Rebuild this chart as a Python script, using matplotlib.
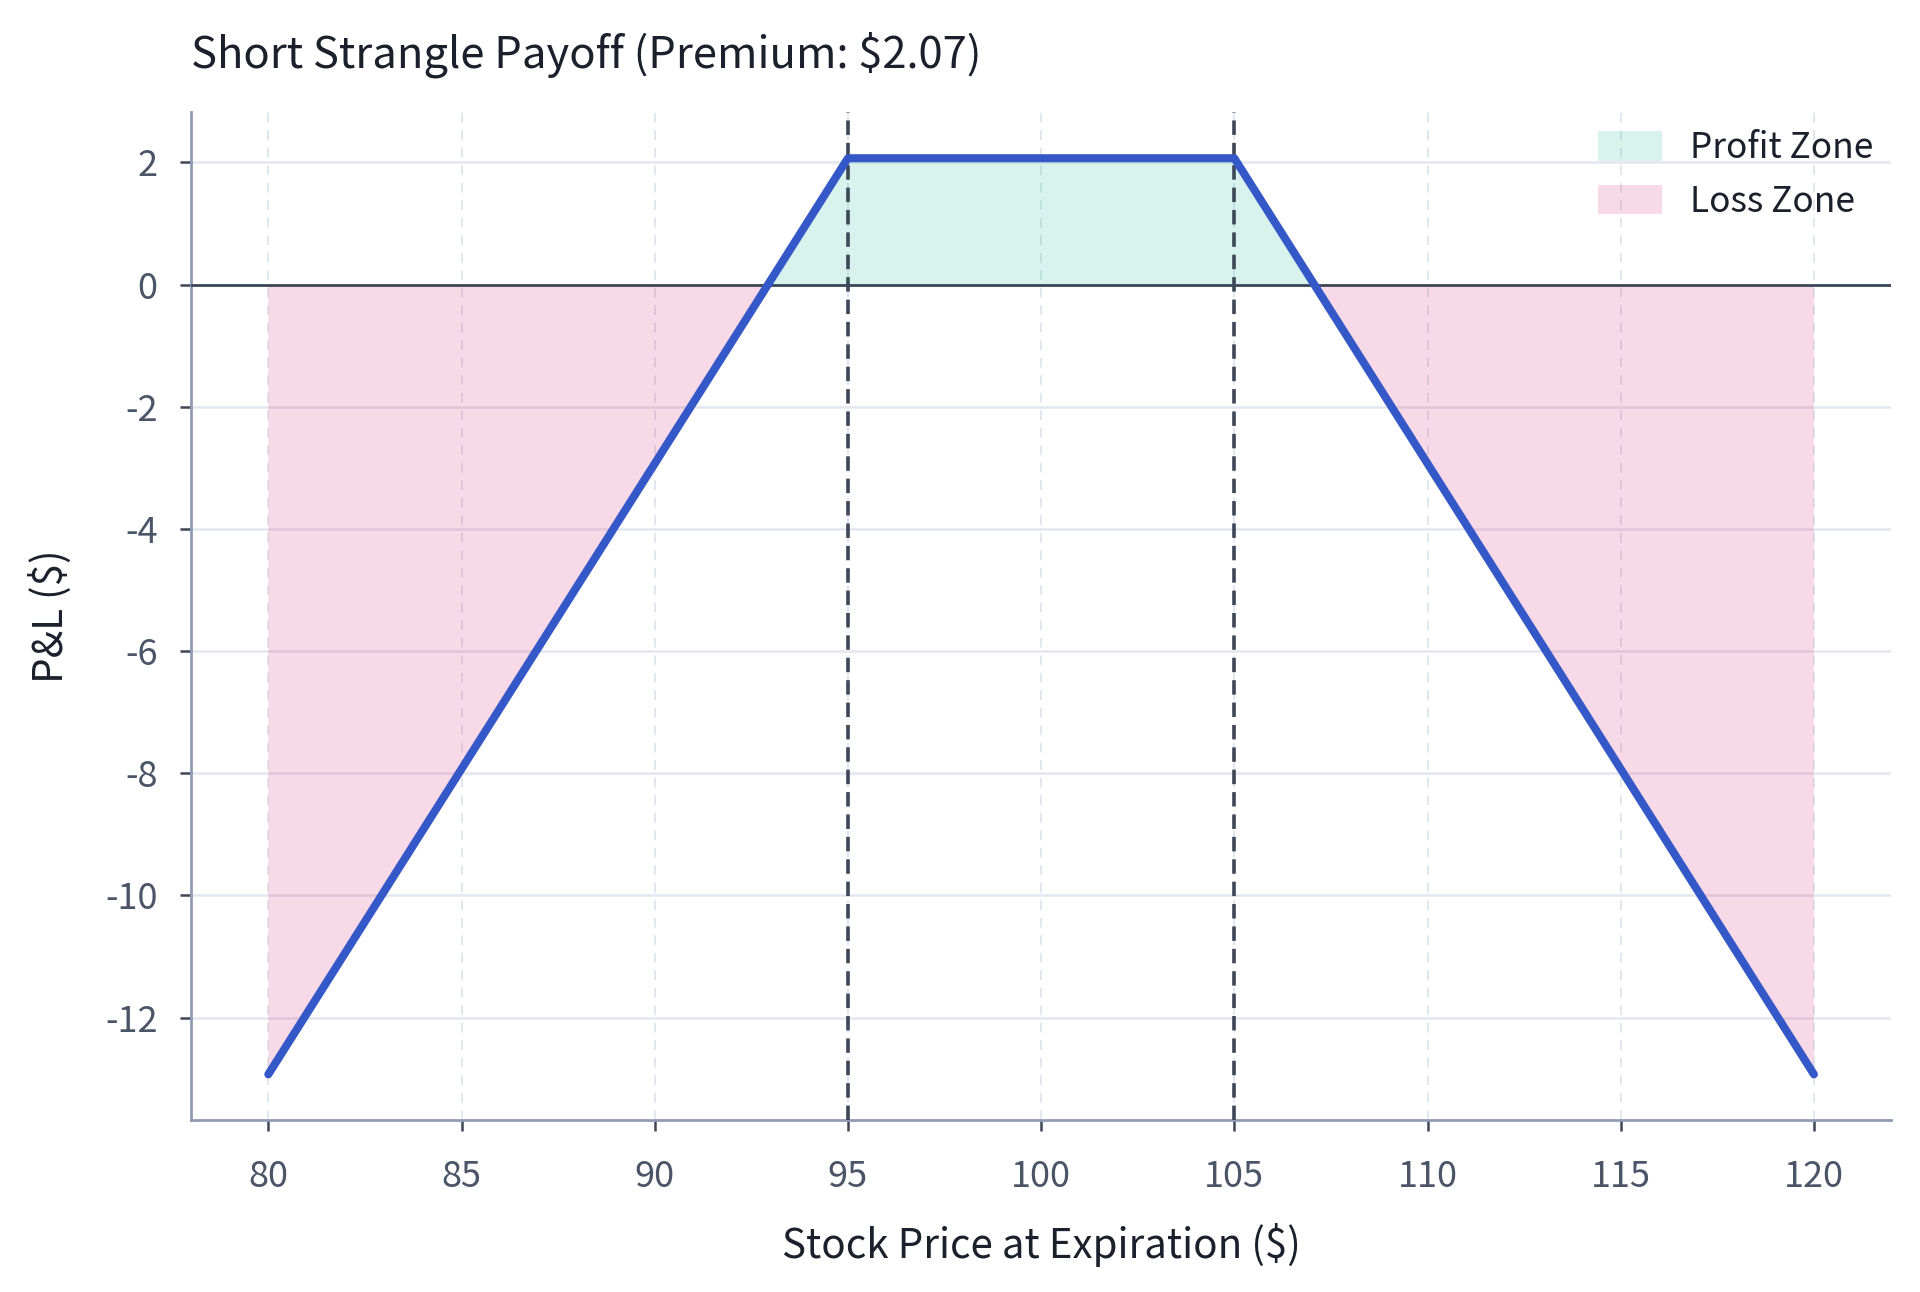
import matplotlib
matplotlib.use("Agg")
import matplotlib.pyplot as plt
from matplotlib.patches import Patch
import numpy as np

plt.rcParams['font.family'] = ['Noto Sans CJK KR', 'DejaVu Sans']
plt.rcParams['axes.unicode_minus'] = False

# Data
prices = [80, 95, 105, 120]
pnl = [-12.93, 2.07, 2.07, -12.93]
strikes = [95, 105]
premium = 2.07
x_ticks = [80, 85, 90, 95, 100, 105, 110, 115, 120]
y_ticks = [-12, -10, -8, -6, -4, -2, 0, 2]

fig = plt.figure(figsize=(9.6, 6.46), dpi=200)
ax = fig.add_axes([0.0995, 0.133, 0.8855, 0.78])

x = np.array(prices, dtype=float)
y = np.array(pnl, dtype=float)

ax.fill_between(x, y, 0, where=y >= 0, interpolate=True,
                color='#3cc3aa', alpha=0.2, linewidth=0, label='Profit Zone')
ax.fill_between(x, y, 0, where=y <= 0, interpolate=True,
                color='#dc4187', alpha=0.2, linewidth=0, label='Loss Zone')

ax.plot(x, y, color='#3558c8', linewidth=2.9, solid_capstyle='round',
        solid_joinstyle='round', zorder=5)
ax.axhline(0, color='#3d4757', linewidth=1.0, zorder=4)
for k in strikes:
    ax.axvline(k, color='#3d4757', linewidth=1.3, linestyle=(0, (4, 2.2)), zorder=4)

ax.set_xticks(x_ticks)
ax.set_yticks(y_ticks)
ax.yaxis.grid(True, color='#e2e6ee', linewidth=0.9, linestyle='-')
ax.xaxis.grid(True, color='#e2e6ee', linewidth=0.7, linestyle=(0, (5, 4)))
ax.set_axisbelow(True)

for s in ['top', 'right']:
    ax.spines[s].set_visible(False)
for s in ['left', 'bottom']:
    ax.spines[s].set_color('#8f9bb3')
    ax.spines[s].set_linewidth(1.0)

ax.tick_params(axis='both', colors='#3d4757', labelcolor='#4a5568',
               labelsize=13, length=4, width=0.9, pad=8)
ax.tick_params(axis='x', pad=10)

ax.set_xlabel('Stock Price at Expiration ($)', fontsize=14.5, color='#1a202c', labelpad=10)
ax.set_ylabel('P&L ($)', fontsize=14.5, color='#1a202c', labelpad=12)
ax.set_title(f'Short Strangle Payoff (Premium: ${premium:.2f})', loc='left',
             fontsize=15.7, color='#1a202c', pad=16)

handles = [Patch(facecolor='#3cc3aa', alpha=0.2, edgecolor='none', label='Profit Zone'),
           Patch(facecolor='#dc4187', alpha=0.2, edgecolor='none', label='Loss Zone')]
leg = ax.legend(handles=handles, loc='upper right', frameon=False, fontsize=12.7,
                handlelength=1.8, handleheight=0.9, borderaxespad=0.1)
for t in leg.get_texts():
    t.set_color('#1a202c')

fig.savefig('out.png', dpi=200, facecolor='white')
